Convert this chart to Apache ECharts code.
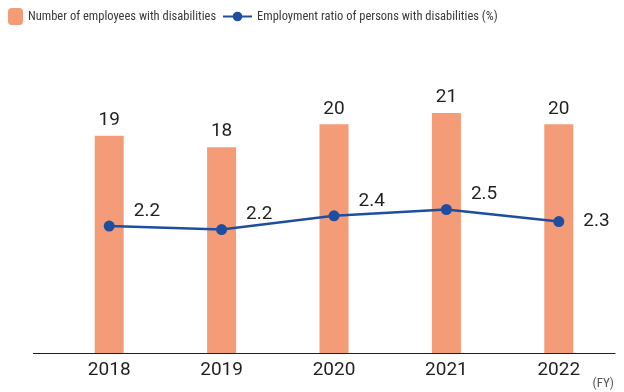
<!DOCTYPE html>
<html>
<head>
<meta charset="utf-8">
<script src="https://cdn.jsdelivr.net/npm/echarts@6/dist/echarts.min.js"></script>
<style>
  html, body { margin: 0; padding: 0; background: #fff; }
  #chart { width: 624px; height: 392px; }
</style>
</head>
<body>
<div id="chart"></div>
<script>
const years = ['2018', '2019', '2020', '2021', '2022'];
const employees = [19, 18, 20, 21, 20];
const ratio = [2.22, 2.16, 2.4, 2.51, 2.3];

const barColor = '#f39c77';
const lineColor = '#1f4ea1';
const textColor = '#231f20';
const legendFont = '"Roboto Condensed", "DejaVu Sans Condensed"';

const chartDom = echarts.init(document.getElementById('chart'));

// last point label sits level with the marker
const ratioData = ratio.map((v, i) => {
  if (i === ratio.length - 1) {
    return { value: v, label: { offset: [14, 0] } };
  }
  return v;
});

chartDom.setOption({
  animation: false,
  legend: [
    {
      data: ['Number of employees with disabilities'],
      left: 8,
      top: 8,
      padding: 0,
      itemWidth: 15,
      itemHeight: 17,
      textStyle: { fontFamily: legendFont, fontSize: 12.5, color: '#3a3a3a' }
    },
    {
      data: ['Employment ratio of persons with disabilities (%)'],
      left: 222,
      top: 10,
      padding: 0,
      itemWidth: 29,
      itemHeight: 12,
      textStyle: { fontFamily: legendFont, fontSize: 12.5, color: '#3a3a3a' }
    }
  ],
  grid: {
    left: 53,
    right: 9,
    top: 10,
    bottom: 39
  },
  xAxis: {
    type: 'category',
    data: years,
    axisTick: { show: false },
    axisLine: { lineStyle: { color: '#231f20', width: 1 } },
    axisLabel: { color: textColor, fontFamily: 'Roboto', fontSize: 19, margin: 8 }
  },
  yAxis: [
    { type: 'value', min: 0, max: 30, show: false, splitLine: { show: false } },
    { type: 'value', min: 0, max: 6, show: false, splitLine: { show: false } }
  ],
  graphic: [
    // axis line continues left of the first category
    { type: 'line', shape: { x1: 33, y1: 353.5, x2: 54, y2: 353.5 }, style: { stroke: '#231f20', lineWidth: 1 } },
    {
      type: 'text', right: 10, top: 377,
      style: { text: '(FY)', fill: '#555', fontFamily: legendFont, fontSize: 13 }
    }
  ],
  series: [
    {
      name: 'Number of employees with disabilities',
      type: 'bar',
      data: employees,
      barWidth: 29,
      itemStyle: { color: barColor },
      label: {
        show: true,
        position: 'top',
        distance: 6,
        color: textColor,
        fontFamily: 'Roboto',
        fontSize: 19
      }
    },
    {
      name: 'Employment ratio of persons with disabilities (%)',
      type: 'line',
      yAxisIndex: 1,
      data: ratioData,
      symbol: 'circle',
      symbolSize: 11,
      lineStyle: { color: lineColor, width: 2.5 },
      itemStyle: { color: lineColor },
      label: {
        show: true,
        position: 'right',
        offset: [14, -15],
        color: textColor,
        fontFamily: 'Roboto',
        fontSize: 19,
        formatter: p => p.value.toFixed(1)
      }
    }
  ]
});
</script>
</body>
</html>
